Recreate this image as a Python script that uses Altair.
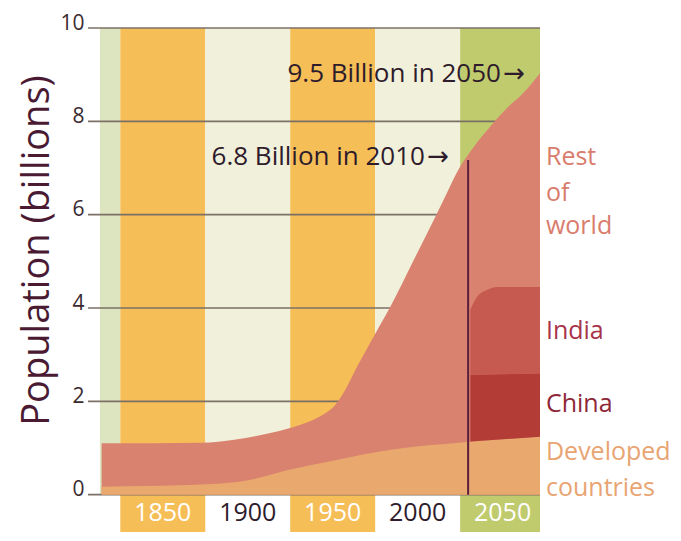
import altair as alt
import pandas as pd

# ---- data ----
band_start = [1813, 1825, 1875, 1925, 1975, 2025]
band_end = [1825, 1875, 1925, 1975, 2025, 2072]
band_fill = ["#DCE5BF", "#F6BE57", "#F1F0DA", "#F6BE57", "#F1F0DA", "#C0CB6E"]
band_floor = [0, -0.8, 0, -0.8, 0, -0.8]

label_years = [1850, 1900, 1950, 2000, 2050]
label_colors = ["#FFFFFF", "#2E1B2B", "#FFFFFF", "#2E1B2B", "#FFFFFF"]

grid_values = [0, 2, 4, 6, 8, 10]

world_years = [1814, 1845, 1872, 1896, 1912, 1925, 1937, 1945, 1951, 1957, 1964, 1974,
               1984, 1998, 2011, 2017, 2023, 2033, 2043, 2053, 2062, 2072]
world_total = [1.10, 1.10, 1.11, 1.20, 1.31, 1.43, 1.58, 1.73, 1.90, 2.22, 2.72, 3.38,
               4.03, 5.05, 6.00, 6.45, 6.90, 7.45, 7.90, 8.30, 8.60, 9.03]

dev_years = [1814, 1869, 1896, 1925, 1953, 1984, 2029, 2072]
dev_total = [0.17, 0.21, 0.28, 0.54, 0.75, 0.96, 1.13, 1.24]

china_years = [2031, 2072]
china_low = [1.14, 1.24]
china_high = [2.57, 2.60]

india_years = [2031, 2035, 2041, 2047, 2072]
india_low = [2.57, 2.57, 2.58, 2.58, 2.60]
india_high = [3.96, 4.24, 4.39, 4.45, 4.45]

marker_year = 2029.7
marker_value = 7.17

ann_text = ["9.5 Billion in 2050", "6.8 Billion in 2010"]
ann_x = [2049.0, 2004.3]
ann_y = [9.02, 7.24]
arrow_x = [2050.3, 2005.6]

side_text = ["Rest", "of", "world", "India", "China", "Developed", "countries"]
side_y = [7.24, 6.47, 5.76, 3.51, 1.95, 0.92, 0.15]
side_color = ["#D97C6C", "#D97C6C", "#D97C6C", "#A8344A", "#8E2738", "#E8A472", "#E8A472"]

FONT = "Open Sans"

xs = alt.Scale(domain=[1806, 2072], nice=False, zero=False)
ys = alt.Scale(domain=[-0.8, 10], nice=False, zero=False)
yaxis = alt.Axis(values=grid_values, ticks=False, domain=False, grid=False,
                 labelFont=FONT, labelFontSize=21, labelColor="#3A2A30",
                 labelPadding=4, labelBaseline="alphabetic", labelOffset=1, format="d",
                 title="Population (billions)", titleFont=FONT, titleFontSize=38,
                 titleFontWeight="normal", titleColor="#4A1A33", titleX=-51, titleY=222,
                 titleBaseline="middle", titleAlign="center", titleAngle=270)
TITLE = "Population (billions)"


def X(f):
    return alt.X(f, type="quantitative", scale=xs, axis=None)


def Y(f):
    return alt.Y(f, type="quantitative", scale=ys, axis=yaxis, title=TITLE)


bands = pd.DataFrame({"x0": band_start, "x1": band_end, "c": band_fill,
                      "y0": band_floor, "y1": [10] * 6})
band_layer = alt.Chart(bands).mark_rect().encode(
    x=X("x0"), x2="x1", y=Y("y0"), y2="y1",
    color=alt.Color("c:N", scale=None))

grid = pd.DataFrame({"v": grid_values, "a": [1806] * 6, "b": [2072] * 6})
grid_layer = alt.Chart(grid).mark_rule(color="#7B7066", strokeWidth=1.6).encode(
    x=X("a"), x2="b", y=Y("v"))

world = pd.DataFrame({"yr": world_years, "v": world_total})
world_layer = alt.Chart(world).mark_area(color="#D9826F", interpolate="monotone").encode(
    x=X("yr"), y=Y("v"), y2=alt.datum(0))

dev = pd.DataFrame({"yr": dev_years, "v": dev_total})
dev_layer = alt.Chart(dev).mark_area(color="#E8A86E", interpolate="monotone").encode(
    x=X("yr"), y=Y("v"), y2=alt.datum(0))

china = pd.DataFrame({"yr": china_years, "lo": china_low, "hi": china_high})
china_layer = alt.Chart(china).mark_area(color="#B43C37").encode(
    x=X("yr"), y=Y("hi"), y2="lo")

india = pd.DataFrame({"yr": india_years, "lo": india_low, "hi": india_high})
india_layer = alt.Chart(india).mark_area(color="#C65A50", interpolate="monotone").encode(
    x=X("yr"), y=Y("hi"), y2="lo")

marker = pd.DataFrame({"yr": [marker_year], "v": [marker_value]})
marker_layer = alt.Chart(marker).mark_rule(color="#5B1E3C", strokeWidth=2).encode(
    x=X("yr"), y=Y("v"), y2=alt.datum(0))

ann = pd.DataFrame({"x": ann_x, "y": ann_y, "t": ann_text, "ax": arrow_x, "a": ["\u2192"] * 2})
ann_layer = alt.Chart(ann).mark_text(align="right", baseline="middle", font=FONT,
                                     fontSize=26, color="#2E1B2B").encode(
    x=X("x"), y=Y("y"), text="t:N")
arrow_layer = alt.Chart(ann).mark_text(align="left", baseline="middle", font="DejaVu Sans",
                                       fontSize=26, color="#2E1B2B").encode(
    x=X("ax"), y=Y("y"), text="a:N")

side = pd.DataFrame({"x": [2075.5] * len(side_text), "y": side_y, "t": side_text, "c": side_color})
side_layer = alt.Chart(side).mark_text(align="left", baseline="middle", font=FONT,
                                       fontSize=25).encode(
    x=X("x"), y=Y("y"), text="t:N", color=alt.Color("c:N", scale=None))

labs = pd.DataFrame({"x": label_years, "y": [-0.39] * 5, "t": [str(v) for v in label_years],
                     "c": label_colors})
lab_layer = alt.Chart(labs).mark_text(align="center", baseline="middle", font=FONT,
                                      fontSize=25).encode(
    x=X("x"), y=Y("y"), text="t:N", color=alt.Color("c:N", scale=None))

chart = alt.layer(band_layer, grid_layer, world_layer, dev_layer, china_layer, india_layer,
                  marker_layer, ann_layer, arrow_layer, side_layer, lab_layer).properties(
    width=452, height=504,
    autosize=alt.AutoSizeParams(type="none"),
    padding={"left": 80, "top": 20, "right": 133, "bottom": 0},
    background="#FFFFFF",
).configure_view(stroke=None)

chart.save("out.html", embed_options={"renderer": "svg", "actions": False})
